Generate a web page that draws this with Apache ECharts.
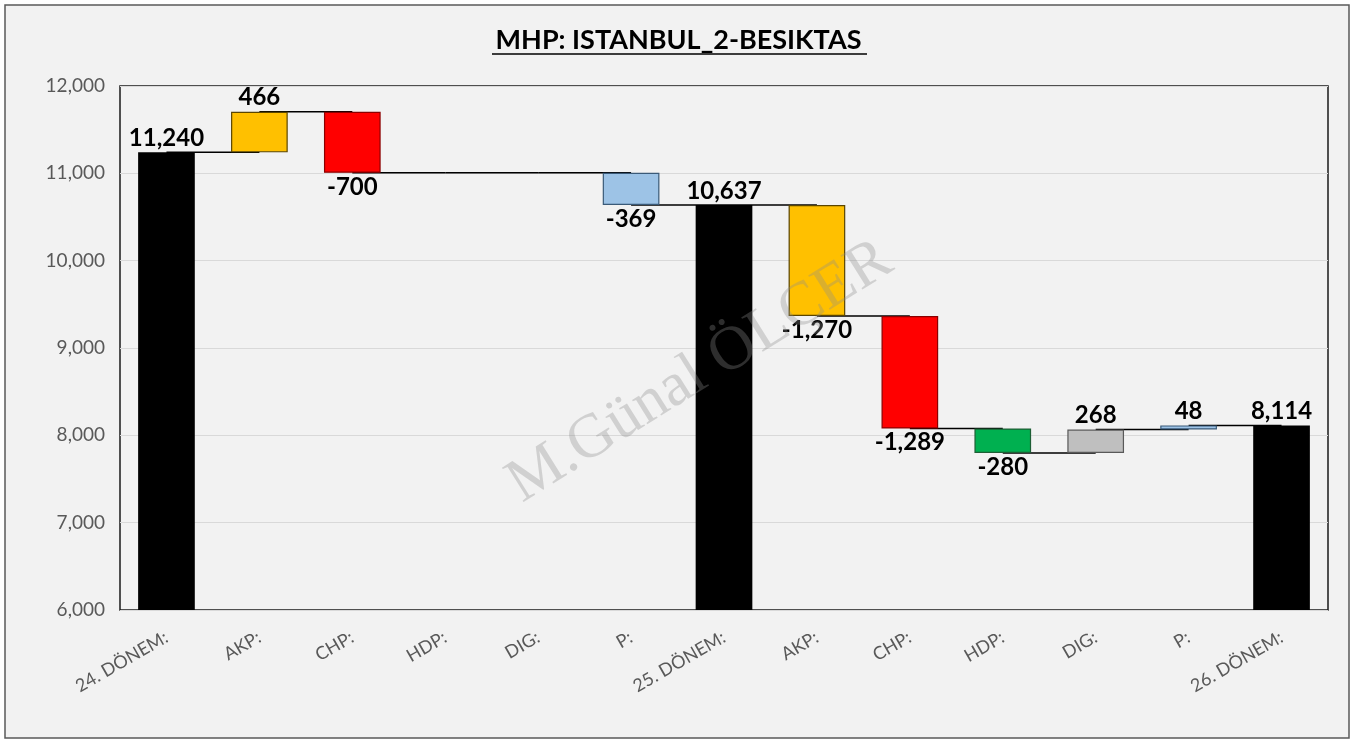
<!DOCTYPE html>
<html>
<head>
    <meta charset="UTF-8">
    <title>MHP: ISTANBUL_2-BESIKTAS</title>
    <script src="https://cdn.jsdelivr.net/npm/echarts@6/dist/echarts.min.js"></script>
    <style>
        html, body { margin: 0; padding: 0; background: #ffffff; }
        #main { width: 1357px; height: 742px; }
    </style>
</head>
<body>
<div id="main"></div>
<script>
    // categories along the x axis
    var categories = ['24. DÖNEM:', 'AKP:', 'CHP:', 'HDP:', 'DIG:', 'P:', '25. DÖNEM:',
                      'AKP:', 'CHP:', 'HDP:', 'DIG:', 'P:', '26. DÖNEM:'];
    // totals for the DÖNEM columns, changes for the party columns
    var values = [11240, 466, -700, 0, 0, -369, 10637, -1270, -1289, -280, 268, 48, 8114];
    var isTotal = [true, false, false, false, false, false, true, false, false, false, false, false, true];
    // y axis ticks
    var yMin = 6000, yMax = 12000, yStep = 1000;

    // colours by column name
    var fills = {
        'DÖNEM': ['#000000', '#000000'],
        'AKP:': ['#FFC000', '#5a4500'],
        'CHP:': ['#FF0000', '#8b0000'],
        'HDP:': ['#00B050', '#1e5e35'],
        'DIG:': ['#BFBFBF', '#595959'],
        'P:': ['#9DC3E6', '#3a5a78']
    };
    function colorsOf(name) {
        return name.indexOf('DÖNEM') >= 0 ? fills['DÖNEM'] : fills[name];
    }

    // build waterfall pieces
    var baseData = [], showData = [], levels = [];
    var run = 0;
    for (var i = 0; i < values.length; i++) {
        var c = colorsOf(categories[i]);
        if (isTotal[i]) {
            baseData.push(0);
            showData.push({value: values[i], itemStyle: {color: c[0], borderColor: c[1], borderWidth: 0}});
            run = values[i];
        } else {
            var next = run + values[i];
            baseData.push(Math.min(run, next));
            showData.push({
                value: Math.abs(values[i]),
                itemStyle: {color: c[0], borderColor: c[1], borderWidth: values[i] === 0 ? 0 : 1.2},
                label: {show: values[i] !== 0, position: values[i] < 0 ? 'bottom' : 'top'}
            });
            run = next;
        }
        levels.push(run);
    }
    // connector lines: from bar i-1 to bar i at level after i-1
    var connData = [];
    for (var j = 1; j < values.length; j++) {
        connData.push([j - 1, j, levels[j - 1]]);
    }

    var myChart = echarts.init(document.getElementById('main'));

    var option = {
        backgroundColor: '#ffffff',
        animation: false,
        title: {
            text: 'MHP: ISTANBUL_2-BESIKTAS',
            left: 'center',
            top: 22,
            textStyle: {fontFamily: 'Lato', fontWeight: 'bold', fontSize: 27, color: '#000000'}
        },
        graphic: [
            {
                type: 'rect', z: -10, silent: true,
                shape: {x: 5, y: 5, width: 1344, height: 733},
                style: {fill: '#f2f2f2', stroke: '#595959', lineWidth: 1.5}
            },
            {
                type: 'line', z: 10, silent: true,
                shape: {x1: 492, y1: 54, x2: 867, y2: 54},
                style: {stroke: '#000000', lineWidth: 1.5}
            },
            {
                type: 'text', z: 100, silent: true,
                x: 700, y: 372, rotation: 0.56,
                style: {
                    text: 'M.Günal ÖLÇER',
                    fontFamily: 'Liberation Serif', fontSize: 62,
                    fill: 'rgba(140,140,140,0.33)',
                    align: 'center', verticalAlign: 'middle',
                    textAlign: 'center', textVerticalAlign: 'middle'
                }
            }
        ],
        grid: {
            left: 120, right: 29, top: 86, bottom: 132,
            show: true, backgroundColor: '#f2f2f2',
            borderColor: '#1a1a1a', borderWidth: 1.5
        },
        xAxis: {
            type: 'category',
            data: categories,
            axisLine: {show: false},
            axisTick: {show: false},
            axisLabel: {
                interval: 0, rotate: 30, margin: 26,
                fontFamily: 'Lato', fontSize: 18, color: '#595959'
            }
        },
        yAxis: {
            type: 'value',
            min: yMin, max: yMax, interval: yStep,
            axisLine: {show: false},
            axisTick: {show: false},
            splitLine: {lineStyle: {color: '#d9d9d9', width: 1.2}},
            axisLabel: {
                margin: 15, fontFamily: 'Lato', fontSize: 19, color: '#595959',
                formatter: function (v) { return v.toLocaleString('en-US'); }
            }
        },
        series: [
            {
                type: 'custom',
                z: 1,
                silent: true,
                renderItem: function (params, api) {
                    var a = api.coord([api.value(0), api.value(2)]);
                    var b = api.coord([api.value(1), api.value(2)]);
                    return {
                        type: 'line',
                        shape: {x1: a[0], y1: a[1], x2: b[0], y2: b[1]},
                        style: {stroke: '#000000', lineWidth: 1.5}
                    };
                },
                encode: {x: [0, 1], y: 2},
                data: connData
            },
            {
                type: 'bar',
                stack: 'wf',
                barWidth: '61%',
                z: 2,
                silent: true,
                itemStyle: {color: 'transparent'},
                data: baseData
            },
            {
                type: 'bar',
                stack: 'wf',
                barWidth: '61%',
                z: 3,
                label: {
                    show: true,
                    position: 'top',
                    distance: 2,
                    fontFamily: 'Lato', fontWeight: 'bold', fontSize: 24, color: '#000000',
                    formatter: function (p) {
                        return values[p.dataIndex].toLocaleString('en-US');
                    }
                },
                data: showData
            }
        ]
    };

    myChart.setOption(option);
</script>
</body>
</html>
